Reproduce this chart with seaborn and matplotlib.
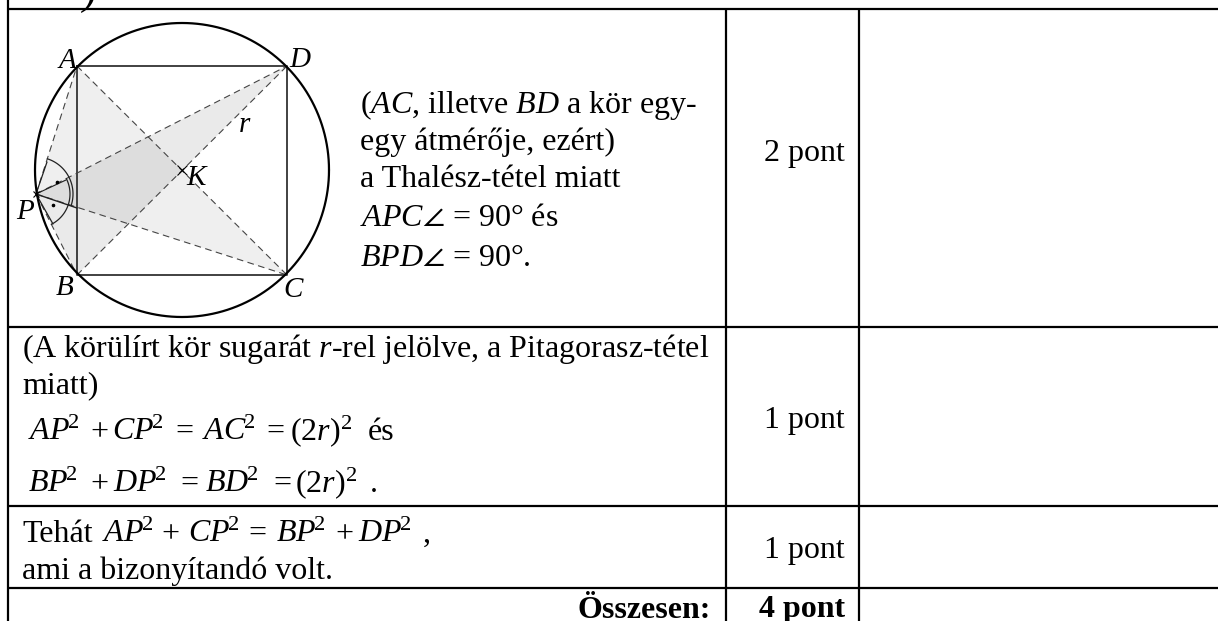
import matplotlib
matplotlib.use("Agg")
import matplotlib.pyplot as plt
import numpy as np
import pandas as pd
import seaborn as sns

sns.set_theme(style="white")
plt.rcParams['font.family'] = ['Liberation Serif', 'DejaVu Serif']
plt.rcParams['text.color'] = 'black'
plt.rcParams['mathtext.fontset'] = 'custom'
plt.rcParams['mathtext.rm'] = 'Liberation Serif'
plt.rcParams['mathtext.it'] = 'Liberation Serif:italic'
plt.rcParams['mathtext.bf'] = 'Liberation Serif:bold'
plt.rcParams['mathtext.fallback'] = 'stix'

# Scoring table content
points = ["2 pont", "1 pont", "1 pont"]
total_label = "Összesen:"
total_points = "4 pont"
row_lines = [8.5, 327, 505.5, 587.5]
col_lines = [726, 859]

# Diagram points (image pixel positions)
pts = {"A": (77, 66), "B": (77, 275), "C": (287, 275), "D": (287, 66),
       "K": (182, 170), "P": (36, 194)}
radius = 147

fig, ax = plt.subplots(figsize=(12.18, 6.21), dpi=100)
fig.subplots_adjust(0, 0, 1, 1)
ax.set_xlim(0, 1218)
ax.set_ylim(621, 0)
ax.axis("off")

A, B, C, D, K, P = (pts[k] for k in "ABCDKP")

# shaded triangles
ax.fill(*zip(A, P, C), color="#808080", alpha=0.12, lw=0, zorder=1)
ax.fill(*zip(B, P, D), color="#808080", alpha=0.16, lw=0, zorder=1)

# square
sq = pd.DataFrame([A, D, C, B, A], columns=["x", "y"])
sns.lineplot(data=sq, x="x", y="y", sort=False, estimator=None,
             color="#333333", lw=1.3, ax=ax, zorder=3)
ax.set_xlabel(""); ax.set_ylabel("")

# circle
t = np.radians(np.arange(0, 361))
ax.plot(K[0] + radius*np.cos(t), K[1] + radius*np.sin(t), color="black", lw=1.6, zorder=4)

# dashed lines
for u, v in [(A, C), (B, D), (P, A), (P, B), (P, C), (P, D)]:
    ax.plot(*zip(u, v), color="#444444", lw=0.8, dashes=(6, 4), zorder=3)
# solid starts at P
ax.plot(*zip(P, (77, 208)), color="#222222", lw=1.0, zorder=3)
ax.plot(*zip(P, (66, 180)), color="#222222", lw=0.8, zorder=3)

# angle arcs
def arc(rad, p, q):
    a0, a1 = [np.arctan2(s[1]-P[1], s[0]-P[0]) for s in (p, q)]
    th = np.linspace(a0, a1, 40)
    ax.plot(P[0]+rad*np.cos(th), P[1]+rad*np.sin(th), color="#222222", lw=0.9, zorder=4)
arc(37, A, C)
arc(34, B, D)
ax.plot(*zip(P, (47, 162)), color="#222222", lw=0.9, zorder=3)
ax.plot(*zip(P, (53, 224)), color="#222222", lw=0.9, zorder=3)
ax.plot([57, 53], [182, 205], ls="none", marker="o", ms=1.6, color="black", zorder=5)
ax.plot(*P, marker="x", ms=5, mew=0.8, color="black", zorder=5)
ax.plot(*K, marker="x", ms=7, mew=0.8, color="black", zorder=5)

# diagram labels
fs_lab = 21
for s, x, y in [("A", 67, 61), ("D", 300, 60), ("B", 65, 288), ("C", 293, 290),
                ("K", 196, 178), ("P", 25, 212), ("r", 244, 125)]:
    ax.text(x, y, s, style="italic", fontsize=fs_lab, ha="center", va="center",
            color="black", zorder=6)

# table rules
lw = 1.6
for y in row_lines:
    ax.plot([7.5, 1218], [y, y], color="black", lw=lw, solid_capstyle="butt", zorder=7)
ax.plot([8, 8], [0, 621], color="black", lw=lw, solid_capstyle="butt", zorder=7)
for x in col_lines:
    ax.plot([x, x], [8.5, 621], color="black", lw=lw, solid_capstyle="butt", zorder=7)

ax.text(90, -6, ")", style="italic", fontsize=30, ha="center", va="center", clip_on=True)

fs = 23
def T(x, y, s, **kw):
    ax.text(x, y, s, fontsize=fs, va="baseline", color="black", **kw)

def sq_term(name):
    return r"${\mathit{%s}\hspace{-0.08}}^{2}$" % name

T(360, 113, r"($\mathit{AC}$, illetve $\mathit{BD}$ a kör egy-")
T(360, 150, "egy átmérője, ezért)")
T(360, 187, "a Thalész-tétel miatt")
T(360, 226, r"$\mathit{APC}\angle$ = 90° és")
T(360, 266, r"$\mathit{BPD}\angle$ = 90°.")

T(22, 357, r"(A körülírt kör sugarát $\mathit{r}$-rel jelölve, a Pitagorasz-tétel")
T(22, 393, "miatt)")

two_r = r"$(2\mathit{r})^{2}$"
for x, s in [(28, sq_term("AP")), (90, "+"), (112, sq_term("CP")), (175, "="),
             (202, sq_term("AC")), (266, "="), (290, two_r), (368, "és")]:
    T(x, 440, s)
for x, s in [(28, sq_term("BP")), (90, "+"), (113, sq_term("DP")), (180, "="),
             (205, sq_term("BD")), (273, "="), (295, two_r), (370, ".")]:
    T(x, 492, s)
for x, s in [(22, "Tehát"), (102, sq_term("AP")), (161, "+"), (188, sq_term("CP")),
             (248, "="), (276, sq_term("BP")), (335, "+"), (358, sq_term("DP")), (423, ",")]:
    T(x, 542, s)
T(22, 579, "ami a bizonyítandó volt.")

for s, y in zip(points, [161, 428, 558]):
    ax.text(845, y, s, fontsize=fs, ha="right", va="baseline")
ax.text(711, 617.5, total_label, fontsize=fs, fontweight="bold", ha="right", va="baseline")
ax.text(845, 617.5, total_points, fontsize=fs, fontweight="bold", ha="right", va="baseline")

fig.savefig("out.png", dpi=100)
